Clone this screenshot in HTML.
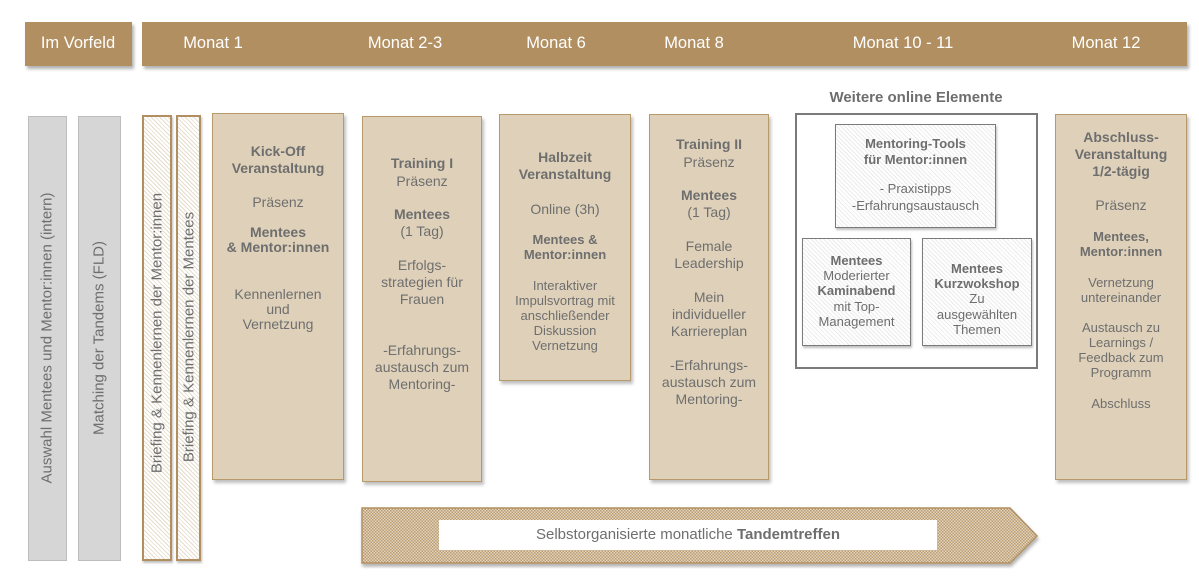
<!DOCTYPE html>
<html><head><meta charset="utf-8"><style>
*{margin:0;padding:0;box-sizing:border-box}
body{width:1199px;height:581px;background:#fff;position:relative;overflow:hidden;font-family:"Liberation Sans Narrow","Liberation Sans",sans-serif;color:#6e6e6e;font-size:14px}
.a{position:absolute}
.bar{position:absolute;background:#b28f60;box-shadow:2px 3px 3px rgba(0,0,0,.3);color:#fff;font-size:16.5px}
.bar span{position:absolute;top:12px;transform:translateX(-50%);white-space:nowrap}
.box{position:absolute;background:#dfd1b9;border:1.5px solid #b89a6a;box-shadow:2px 3px 3px rgba(0,0,0,.25)}
.l{position:absolute;left:-10px;right:-10px;text-align:center;line-height:16px;white-space:nowrap}
.b{font-weight:bold}
.gray{position:absolute;background:#d6d6d6;border:1.5px solid #bdbdbd}
.hat{position:absolute;border:2.5px solid #b28f60;background:repeating-linear-gradient(45deg,#fff 0 2px,#e6ddcc 2px 3px);box-shadow:1px 2px 2px rgba(0,0,0,.25)}
.rot{position:absolute;white-space:nowrap;transform:translate(-50%,-50%) rotate(-90deg);font-size:15px;color:#6e6e6e}
.gb{position:absolute;border:1.5px solid #7a7a7a;background:repeating-linear-gradient(45deg,#fff 0 2px,#ececec 2px 3px);box-shadow:1px 2px 2px rgba(0,0,0,.25)}
</style></head><body>
<div class="bar" style="left:25px;top:22px;width:107px;height:44px"><span style="left:53px">Im Vorfeld</span></div>
<div class="bar" style="left:142px;top:22px;width:1045px;height:44px">
<span style="left:71px">Monat 1</span><span style="left:263px">Monat 2-3</span><span style="left:414px">Monat 6</span><span style="left:552px">Monat 8</span><span style="left:761px">Monat 10 - 11</span><span style="left:964px">Monat 12</span></div>

<div class="gray" style="left:28px;top:116px;width:39px;height:445px"></div>
<div class="rot" style="left:47px;top:338px">Auswahl Mentees und Mentor:innen (intern)</div>
<div class="gray" style="left:78px;top:116px;width:43px;height:445px"></div>
<div class="rot" style="left:99px;top:338px">Matching der Tandems (FLD)</div>
<div class="hat" style="left:142px;top:115px;width:30px;height:446px"></div>
<div class="rot" style="left:157px;top:333px">Briefing &amp; Kennenlernen der Mentor:innen</div>
<div class="hat" style="left:176px;top:115px;width:25px;height:446px"></div>
<div class="rot" style="left:189px;top:337px">Briefing &amp; Kennenlernen der Mentees</div>

<div class="box" style="left:212px;top:113px;width:132px;height:367px">
<div class="l b" style="top:29px">Kick-Off</div><div class="l b" style="top:46px">Veranstaltung</div>
<div class="l" style="top:80px">Präsenz</div>
<div class="l b" style="top:110px">Mentees</div><div class="l b" style="top:125px">&amp; Mentor:innen</div>
<div class="l" style="top:172px">Kennenlernen</div><div class="l" style="top:187px">und</div><div class="l" style="top:202px">Vernetzung</div></div>

<div class="box" style="left:362px;top:116px;width:120px;height:366px">
<div class="l b" style="top:38px">Training I</div><div class="l" style="top:56px">Präsenz</div>
<div class="l b" style="top:89px">Mentees</div><div class="l" style="top:106px">(1 Tag)</div>
<div class="l" style="top:140px">Erfolgs-</div><div class="l" style="top:157px">strategien für</div><div class="l" style="top:174px">Frauen</div>
<div class="l" style="top:225px">-Erfahrungs-</div><div class="l" style="top:242px">austausch zum</div><div class="l" style="top:259px">Mentoring-</div></div>

<div class="box" style="left:499px;top:114px;width:132px;height:267px">
<div class="l b" style="top:34px">Halbzeit</div><div class="l b" style="top:51px">Veranstaltung</div>
<div class="l" style="top:86px">Online (3h)</div>
<div class="l b" style="top:117px;font-size:13px">Mentees &amp;</div><div class="l b" style="top:132px;font-size:13px">Mentor:innen</div>
<div class="l" style="top:163px;font-size:13px">Interaktiver</div><div class="l" style="top:178px;font-size:13px">Impulsvortrag mit</div><div class="l" style="top:193px;font-size:13px">anschließender</div><div class="l" style="top:208px;font-size:13px">Diskussion</div><div class="l" style="top:223px;font-size:13px">Vernetzung</div></div>

<div class="box" style="left:649px;top:114px;width:120px;height:366px">
<div class="l b" style="top:21px">Training II</div><div class="l" style="top:39px">Präsenz</div>
<div class="l b" style="top:72px">Mentees</div><div class="l" style="top:89px">(1 Tag)</div>
<div class="l" style="top:123px">Female</div><div class="l" style="top:140px">Leadership</div>
<div class="l" style="top:174px">Mein</div><div class="l" style="top:191px">individueller</div><div class="l" style="top:208px">Karriereplan</div>
<div class="l" style="top:242px">-Erfahrungs-</div><div class="l" style="top:259px">austausch zum</div><div class="l" style="top:276px">Mentoring-</div></div>

<div class="a b" style="left:795px;top:89px;width:242px;text-align:center;font-size:15px">Weitere online Elemente</div>
<div class="a" style="left:795px;top:113px;width:243px;height:256px;border:2px solid #7a7a7a"></div>
<div class="gb" style="left:835px;top:124px;width:161px;height:104px">
<div class="l b" style="top:11px;font-size:13px">Mentoring-Tools</div><div class="l b" style="top:27px;font-size:13px">für Mentor:innen</div>
<div class="l" style="top:56px;font-size:13px">- Praxistipps</div><div class="l" style="top:73px;font-size:13px">-Erfahrungsaustausch</div></div>
<div class="gb" style="left:802px;top:238px;width:109px;height:108px">
<div class="l b" style="top:14px;font-size:13px">Mentees</div><div class="l" style="top:29px;font-size:13px">Moderierter</div><div class="l b" style="top:44px;font-size:13px">Kaminabend</div><div class="l" style="top:60px;font-size:13px">mit Top-</div><div class="l" style="top:75px;font-size:13px">Management</div></div>
<div class="gb" style="left:922px;top:238px;width:110px;height:108px">
<div class="l b" style="top:22px;font-size:13px">Mentees</div><div class="l b" style="top:37px;font-size:13px">Kurzwokshop</div><div class="l" style="top:52px;font-size:13px">Zu</div><div class="l" style="top:68px;font-size:13px">ausgewählten</div><div class="l" style="top:83px;font-size:13px">Themen</div></div>

<div class="box" style="left:1055px;top:114px;width:132px;height:366px">
<div class="l b" style="top:14px">Abschluss-</div><div class="l b" style="top:31px">Veranstaltung</div><div class="l b" style="top:48px">1/2-tägig</div>
<div class="l" style="top:82px">Präsenz</div>
<div class="l b" style="top:114px;font-size:13px">Mentees,</div><div class="l b" style="top:129px;font-size:13px">Mentor:innen</div>
<div class="l" style="top:160px;font-size:13px">Vernetzung</div><div class="l" style="top:175px;font-size:13px">untereinander</div>
<div class="l" style="top:205px;font-size:13px">Austausch zu</div><div class="l" style="top:220px;font-size:13px">Learnings /</div><div class="l" style="top:235px;font-size:13px">Feedback zum</div><div class="l" style="top:250px;font-size:13px">Programm</div>
<div class="l" style="top:281px;font-size:13px">Abschluss</div></div>

<svg class="a" style="left:0;top:0" width="1199" height="581">
<defs><pattern id="p" width="3" height="3" patternUnits="userSpaceOnUse"><rect width="3" height="3" fill="#e2d5bf"/><rect width="1.5" height="1.5" fill="#bb9c70"/><rect x="1.5" y="1.5" width="1.5" height="1.5" fill="#bb9c70"/></pattern>
<filter id="s"><feDropShadow dx="1" dy="3" stdDeviation="1.5" flood-opacity=".3"/></filter></defs>
<polygon points="362,508 1010,508 1037,536 1010,563 362,563" fill="url(#p)" stroke="#b28f60" stroke-width="1.5" filter="url(#s)"/>
<rect x="439" y="520" width="498" height="30" fill="#fff"/>
</svg>
<div class="a" style="left:439px;top:526px;width:498px;text-align:center;font-size:15px;line-height:18px">Selbstorganisierte monatliche <b>Tandemtreffen</b></div>
</body></html>
